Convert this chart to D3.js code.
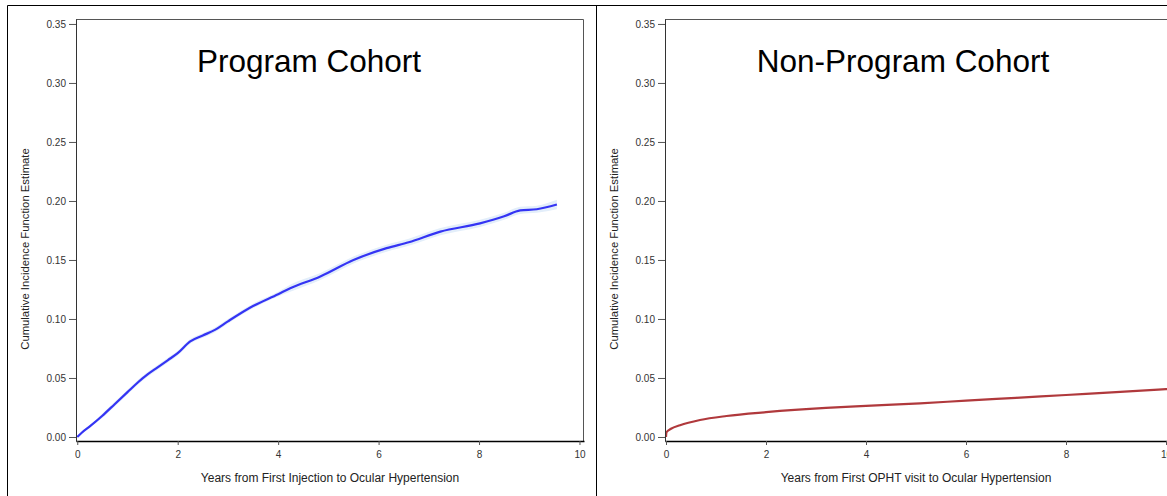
<!DOCTYPE html>
<html>
<head>
<meta charset="utf-8">
<script src="https://cdn.jsdelivr.net/npm/d3@7"></script>
<style>
  body { margin: 0; background: #fff; }
  text { font-family: "Liberation Sans", Arial, sans-serif; }
</style>
</head>
<body>
<div id="plot"></div>
<script>
const width = 1167, height = 496;

// Program cohort (blue) - years vs cumulative incidence, with CI band
const progYears = [0, 0.1, 0.25, 0.5, 0.75, 1.0, 1.2, 1.4, 1.6, 1.8, 2.0, 2.25, 2.5, 2.75, 3.0, 3.5, 4.0, 4.24, 4.84, 5.5, 6.16, 6.6, 7.23, 8.02, 8.5, 8.82, 9.15, 9.55];
const progEst   = [0.000, 0.004, 0.009, 0.018, 0.028, 0.038, 0.046, 0.053, 0.059, 0.065, 0.071, 0.081, 0.086, 0.091, 0.098, 0.111, 0.121, 0.126, 0.136, 0.150, 0.160, 0.165, 0.174, 0.181, 0.187, 0.192, 0.193, 0.197];
const progLow   = [0.000, 0.003, 0.008, 0.016, 0.026, 0.036, 0.044, 0.051, 0.057, 0.063, 0.069, 0.079, 0.084, 0.089, 0.096, 0.109, 0.119, 0.123, 0.133, 0.147, 0.157, 0.162, 0.171, 0.178, 0.184, 0.189, 0.190, 0.193];
const progHigh  = [0.001, 0.005, 0.010, 0.020, 0.030, 0.040, 0.048, 0.055, 0.061, 0.067, 0.073, 0.083, 0.088, 0.093, 0.100, 0.113, 0.123, 0.129, 0.139, 0.153, 0.163, 0.168, 0.177, 0.184, 0.190, 0.195, 0.196, 0.201];

// Non-program cohort (red)
const nonYears = [0, 0.01, 0.1, 0.28, 0.68, 1.21, 2.0, 3.2, 4.0, 5.08, 6.0, 7.0, 8.0, 9.0, 10.0, 10.08];
const nonEst   = [0.000, 0.004, 0.007, 0.010, 0.0144, 0.0178, 0.021, 0.0246, 0.0263, 0.0285, 0.0308, 0.0332, 0.0356, 0.038, 0.0405, 0.0407];

const yTicks = [0, 0.05, 0.10, 0.15, 0.20, 0.25, 0.30, 0.35];
const xTicks = [0, 2, 4, 6, 8, 10];

const svg = d3.select('#plot')
  .append('svg')
  .attr('width', width)
  .attr('height', height)
  .style('background', '#fff');

// outer cell borders
svg.append('path')
  .attr('d', `M7.5,${height} V5.5 H${width} M596.5,5.5 V${height}`)
  .attr('fill', 'none')
  .attr('stroke', '#000')
  .attr('stroke-width', 1);

function drawPanel(p) {
  const x = d3.scaleLinear().domain(p.xDomain).range([p.left, p.right]);
  const y = d3.scaleLinear().domain([-0.0034, 0.3542]).range([441, 19]);
  const g = svg.append('g');

  // frame top & right
  g.append('path')
    .attr('d', `M${p.left},19.5 H${p.right - 0.5} V441`)
    .attr('fill', 'none')
    .attr('stroke', '#555')
    .attr('stroke-width', 1);

  // CI band
  if (p.low) {
    const area = d3.area()
      .x((d, i) => x(p.years[i]))
      .y0((d, i) => y(p.low[i]))
      .y1((d, i) => y(p.high[i]))
      .curve(d3.curveMonotoneX);
    g.append('path')
      .datum(p.years)
      .attr('d', area)
      .attr('fill', '#e3eefa');
  }

  // curve
  const line = d3.line()
    .x((d, i) => x(p.years[i]))
    .y(d => y(d))
    .curve(d3.curveMonotoneX);
  g.append('path')
    .datum(p.est)
    .attr('d', line)
    .attr('fill', 'none')
    .attr('stroke', p.color)
    .attr('stroke-width', 2.2);

  // axes
  const yAxis = g.append('g')
    .attr('transform', `translate(${p.left},0)`)
    .call(d3.axisLeft(y).tickValues(yTicks).tickFormat(d3.format('.2f')).tickSize(7).tickPadding(3).tickSizeOuter(0));
  yAxis.select('.domain').attr('stroke', '#333');
  yAxis.selectAll('.tick line').attr('stroke', '#555');
  yAxis.selectAll('.tick text')
    .attr('fill', '#333')
    .style('font-size', '10px')
    .style('font-family', '"Liberation Sans", Arial, sans-serif');

  const xAxis = g.append('g')
    .attr('transform', 'translate(0,441)')
    .call(d3.axisBottom(x).tickValues(xTicks).tickSize(4).tickPadding(6).tickSizeOuter(0));
  xAxis.select('.domain').attr('stroke', '#000').attr('stroke-width', 1.6);
  xAxis.selectAll('.tick line').attr('stroke', '#555');
  xAxis.selectAll('.tick text')
    .attr('fill', '#333')
    .style('font-size', '10px')
    .style('font-family', '"Liberation Sans", Arial, sans-serif');

  // title
  g.append('text')
    .attr('x', p.titleX)
    .attr('y', 72)
    .attr('text-anchor', 'middle')
    .style('font-size', '31.5px')
    .attr('fill', '#000')
    .text(p.title);

  // x label
  g.append('text')
    .attr('x', p.xLabelX)
    .attr('y', 482)
    .attr('text-anchor', 'middle')
    .style('font-size', '12px')
    .attr('fill', '#222')
    .text(p.xLabel);

  // y label
  g.append('text')
    .attr('transform', `translate(${p.yLabelX},249) rotate(-90)`)
    .attr('text-anchor', 'middle')
    .style('font-size', '11.3px')
    .attr('fill', '#222')
    .text('Cumulative Incidence Function Estimate');
}

drawPanel({
  left: 76, right: 584, xDomain: [-0.025, 10.09],
  years: progYears, est: progEst, low: progLow, high: progHigh,
  color: '#3434f4',
  title: 'Program Cohort', titleX: 309,
  xLabel: 'Years from First Injection to Ocular Hypertension', xLabelX: 330,
  yLabelX: 29
});

drawPanel({
  left: 665, right: 1170, xDomain: [-0.02, 10.08],
  years: nonYears, est: nonEst, low: null, high: null,
  color: '#b0393c',
  title: 'Non-Program Cohort', titleX: 903,
  xLabel: 'Years from First OPHT visit to Ocular Hypertension', xLabelX: 916,
  yLabelX: 618
});
</script>
</body>
</html>
